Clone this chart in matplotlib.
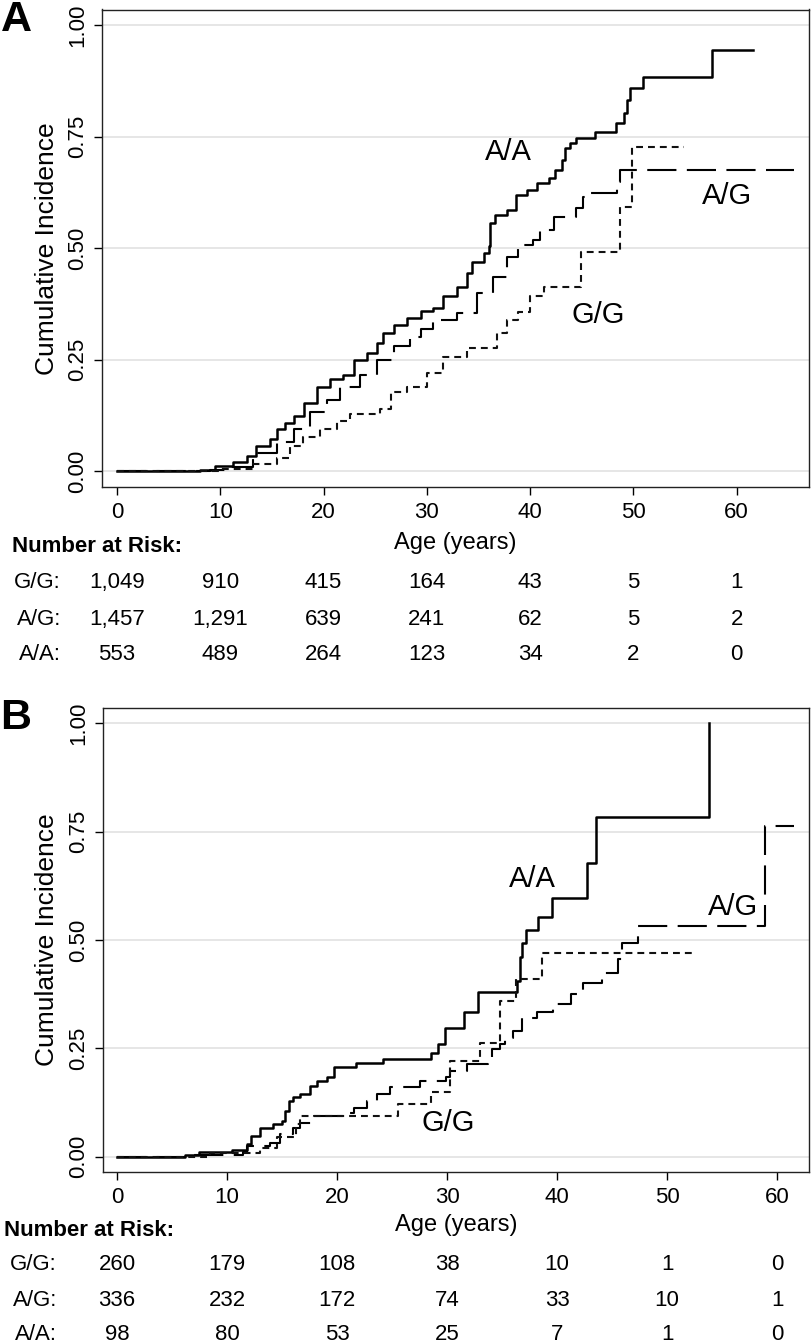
import matplotlib
matplotlib.use("Agg")
import matplotlib.pyplot as plt
from matplotlib.transforms import blended_transform_factory

plt.rcParams['font.family'] = ['Liberation Sans', 'DejaVu Sans']

# Panel A curves (age in years, cumulative incidence after each step)
aa_a_age = [0, 8.0, 9.5, 11.2, 12.6, 13.5, 14.8, 15.5, 16.3, 17.1, 18.1, 19.4, 20.6, 21.9, 22.9, 24.2,
            25.2, 25.8, 26.8, 28.1, 29.4, 30.6, 31.6, 32.9, 33.9, 34.4, 35.5, 36.0, 36.1, 36.6, 37.8,
            38.6, 39.7, 40.7, 41.8, 42.4, 43.1, 43.4, 43.9, 44.4, 46.3, 48.3, 49.1, 49.4, 49.7, 50.9,
            57.6, 61.6]
aa_a_val = [0, 0.004, 0.012, 0.022, 0.034, 0.056, 0.072, 0.094, 0.108, 0.123, 0.154, 0.188, 0.206, 0.217,
            0.25, 0.266, 0.288, 0.31, 0.329, 0.344, 0.36, 0.367, 0.392, 0.414, 0.445, 0.47, 0.49, 0.504,
            0.557, 0.575, 0.586, 0.62, 0.631, 0.646, 0.657, 0.676, 0.698, 0.725, 0.736, 0.747, 0.761,
            0.78, 0.802, 0.832, 0.859, 0.884, 0.944, 0.944]

ag_a_age = [0, 9.0, 10.5, 13.2, 15.5, 17.1, 18.7, 20.3, 21.6, 23.5, 25.2, 26.8, 28.4, 29.4, 30.6, 32.9,
            34.9, 36.4, 37.8, 38.8, 40.3, 41.0, 42.3, 44.4, 45.1, 45.5, 48.4, 48.7, 65.5]
ag_a_val = [0, 0.004, 0.01, 0.042, 0.065, 0.094, 0.132, 0.161, 0.188, 0.217, 0.25, 0.28, 0.302, 0.318,
            0.34, 0.356, 0.4, 0.436, 0.481, 0.508, 0.519, 0.541, 0.571, 0.59, 0.615, 0.624, 0.649, 0.676,
            0.676]

gg_a_age = [0, 10.0, 13.2, 15.5, 16.8, 18.0, 19.7, 21.3, 22.6, 25.5, 26.5, 28.1, 30.0, 31.6, 33.9, 36.8,
            37.8, 38.8, 40.0, 41.3, 44.9, 48.7, 49.9, 54.9]
gg_a_val = [0, 0.005, 0.016, 0.031, 0.056, 0.078, 0.094, 0.112, 0.128, 0.139, 0.177, 0.188, 0.221, 0.257,
            0.277, 0.311, 0.34, 0.358, 0.392, 0.414, 0.492, 0.593, 0.727, 0.727]

# Panel B curves
aa_b_age = [0, 6.2, 7.5, 10.5, 11.8, 12.2, 13.0, 14.2, 15.0, 15.3, 15.6, 16.0, 16.6, 17.5, 18.2, 19.1,
            19.7, 21.7, 24.2, 28.5, 29.2, 29.8, 31.5, 32.8, 36.4, 36.6, 36.8, 37.2, 38.3, 39.5, 42.7,
            43.5, 53.8]
aa_b_val = [0, 0.005, 0.01, 0.015, 0.03, 0.048, 0.067, 0.075, 0.083, 0.106, 0.129, 0.137, 0.145, 0.163,
            0.175, 0.183, 0.206, 0.217, 0.225, 0.24, 0.26, 0.298, 0.333, 0.379, 0.406, 0.46, 0.494,
            0.524, 0.552, 0.596, 0.677, 0.783, 1.0]

ag_b_age = [0, 7.0, 11.5, 11.8, 13.9, 14.8, 16.0, 16.6, 17.9, 20.9, 21.5, 22.7, 23.6, 24.8, 27.5, 29.9,
            30.3, 31.8, 33.7, 34.1, 34.8, 35.3, 36.0, 36.8, 38.2, 39.6, 41.3, 42.4, 44.1, 45.5, 45.9,
            47.4, 58.9, 61.5]
ag_b_val = [0, 0.004, 0.01, 0.025, 0.032, 0.052, 0.067, 0.079, 0.095, 0.102, 0.113, 0.129, 0.145, 0.16,
            0.175, 0.183, 0.198, 0.214, 0.229, 0.249, 0.26, 0.275, 0.291, 0.319, 0.333, 0.353, 0.376,
            0.4, 0.425, 0.457, 0.494, 0.533, 0.764, 0.764]

gg_b_age = [0, 8.5, 13.0, 14.5, 16.3, 16.6, 25.5, 28.5, 30.3, 33.0, 34.8, 36.3, 38.6, 52.3]
gg_b_val = [0, 0.008, 0.02, 0.045, 0.075, 0.095, 0.122, 0.15, 0.222, 0.263, 0.36, 0.41, 0.469, 0.469]

# Number at risk
risk_ages = [0, 10, 20, 30, 40, 50, 60]
risk_a_gg = [1049, 910, 415, 164, 43, 5, 1]
risk_a_ag = [1457, 1291, 639, 241, 62, 5, 2]
risk_a_aa = [553, 489, 264, 123, 34, 2, 0]
risk_b_gg = [260, 179, 108, 38, 10, 1, 0]
risk_b_ag = [336, 232, 172, 74, 33, 10, 1]
risk_b_aa = [98, 80, 53, 25, 7, 1, 0]

genotypes = ["G/G:", "A/G:", "A/A:"]
yticks = [0, 0.25, 0.5, 0.75, 1.0]

W, H = 812, 1342
fig = plt.figure(figsize=(W / 100, H / 100), dpi=100)


def fx(px):
    return px / W


def fy(px):
    return 1 - px / H


def draw_panel(rect, xlim, curves, labels, risk, ylab_x, xlab_y, risk_y, head_x, row_x):
    ax = fig.add_axes(rect)
    solid, longdash, shortdash = curves
    ax.step(solid[0], solid[1], where='post', color='black', lw=1.8)
    ax.step(longdash[0], longdash[1], where='post', color='black', lw=1.5, linestyle=(0, (14, 5)))
    ax.step(shortdash[0], shortdash[1], where='post', color='#111111', lw=1.5, linestyle=(0, (3.3, 2.4)))
    for txt, x, y in labels:
        ax.text(x, y, txt, fontsize=21, ha='center', va='center')

    ax.set_xlim(xlim)
    ax.set_ylim(-0.035, 1.035)
    ax.set_xticks(risk_ages)
    ax.set_yticks(yticks)
    ax.set_yticklabels([f"{v:.2f}" for v in yticks])
    ax.tick_params(direction='out', length=5.8, width=1, labelsize=16, pad=5)
    ax.tick_params(axis='y', labelrotation=90, pad=4)
    for lab in ax.get_yticklabels():
        lab.set_va('center')
    ax.yaxis.grid(True, color='#e4e4e4', lw=1.3)
    ax.set_axisbelow(True)
    for s in ax.spines.values():
        s.set_linewidth(1.0)
        s.set_color('#222222')

    ax.set_ylabel("Cumulative Incidence", fontsize=19, va='center')
    ax.yaxis.set_label_coords(ylab_x, 0.5)
    ax.set_xlabel("Age (years)", fontsize=17, va='center')
    ax.xaxis.set_label_coords(0.5, xlab_y)

    # number at risk table, columns follow the x axis
    trans = blended_transform_factory(ax.transData, fig.transFigure)
    fig.text(fx(head_x), fy(risk_y[0]), "Number at Risk:", fontsize=16, weight='bold',
             ha='left', va='center')
    for row, name, ypx in zip(risk, genotypes, risk_y[1:]):
        fig.text(fx(row_x), fy(ypx), name, fontsize=16, ha='right', va='center')
        for age, n in zip(risk_ages, row):
            ax.text(age, fy(ypx), f"{n:,}", fontsize=16, ha='center', va='center',
                    transform=trans, clip_on=False)
    return ax


ax_a = draw_panel([fx(102), fy(487), fx(809) - fx(102), fy(9.5) - fy(487)], (-1.45, 67.0),
                  [(aa_a_age, aa_a_val), (ag_a_age, ag_a_val), (gg_a_age, gg_a_val)],
                  [("A/A", 37.9, 0.716), ("A/G", 59.1, 0.617), ("G/G", 46.6, 0.351)],
                  [risk_a_gg, risk_a_ag, risk_a_aa], -0.078, -0.117,
                  [547, 583, 619, 655], 12, 61)

ax_b = draw_panel([fx(103), fy(1172), fx(809) - fx(103), fy(708) - fy(1172)], (-1.27, 62.9),
                  [(aa_b_age, aa_b_val), (ag_b_age, ag_b_val), (gg_b_age, gg_b_val)],
                  [("A/A", 37.8, 0.64), ("A/G", 56.0, 0.575), ("G/G", 30.1, 0.078)],
                  [risk_b_gg, risk_b_ag, risk_b_aa], -0.079, -0.114,
                  [1230, 1265, 1300, 1334], 4, 57)

fig.text(fx(16), fy(20), "A", fontsize=31, weight='bold', ha='center', va='center')
fig.text(fx(16), fy(718), "B", fontsize=31, weight='bold', ha='center', va='center')

fig.savefig("out.png", dpi=100)
